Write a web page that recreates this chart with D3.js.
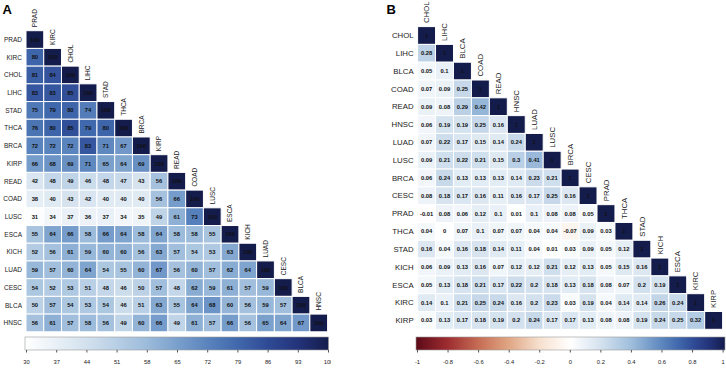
<!DOCTYPE html>
<html>
  <head>
    <meta charset="utf-8">
    <script src="https://d3js.org/d3.v7.min.js"></script>
    <style>
      body { margin: 0; background: #fff; }
      svg { font-family: "Liberation Sans", Arial, sans-serif; }
    </style>
  </head>
  <body>
  <svg id="chart" width="726" height="371"></svg>
  <script>
    // パネルA: 相関(%)
    var namesA = ["PRAD", "KIRC", "CHOL", "LIHC", "STAD", "THCA", "BRCA", "KIRP", "READ",
                  "COAD", "LUSC", "ESCA", "KICH", "LUAD", "CESC", "BLCA", "HNSC"];
    var valuesA = [
      [100],
      [80, 100],
      [81, 84, 100],
      [83, 83, 85, 100],
      [75, 79, 80, 74, 100],
      [76, 80, 85, 79, 80, 100],
      [72, 72, 72, 83, 71, 67, 100],
      [66, 68, 69, 71, 65, 64, 69, 100],
      [42, 48, 49, 46, 48, 47, 43, 56, 100],
      [38, 40, 43, 42, 40, 40, 40, 56, 66, 100],
      [31, 34, 37, 36, 37, 34, 35, 49, 61, 73, 100],
      [55, 64, 66, 58, 66, 64, 58, 64, 58, 58, 55, 100],
      [52, 56, 61, 59, 60, 60, 56, 63, 57, 54, 53, 63, 100],
      [59, 57, 60, 64, 54, 55, 60, 67, 56, 60, 57, 62, 64, 100],
      [54, 52, 53, 51, 48, 46, 50, 57, 48, 62, 59, 61, 57, 59, 100],
      [50, 57, 54, 53, 54, 46, 51, 63, 55, 64, 68, 60, 56, 59, 57, 100],
      [56, 61, 57, 58, 56, 49, 60, 66, 49, 61, 57, 66, 56, 65, 64, 67, 100]
    ];
    var ticksA = [30, 37, 44, 51, 58, 65, 72, 79, 86, 93, 100];

    // パネルB: 相関係数
    var namesB = ["CHOL", "LIHC", "BLCA", "COAD", "READ", "HNSC", "LUAD", "LUSC", "BRCA",
                  "CESC", "PRAD", "THCA", "STAD", "KICH", "ESCA", "KIRC", "KIRP"];
    var valuesB = [
      [1],
      [0.28, 1],
      [0.05, 0.1, 1],
      [0.07, 0.09, 0.25, 1],
      [0.09, 0.08, 0.29, 0.42, 1],
      [0.06, 0.19, 0.19, 0.25, 0.16, 1],
      [0.07, 0.22, 0.17, 0.15, 0.14, 0.24, 1],
      [0.09, 0.21, 0.22, 0.21, 0.15, 0.3, 0.41, 1],
      [0.06, 0.24, 0.13, 0.13, 0.13, 0.14, 0.23, 0.21, 1],
      [0.08, 0.18, 0.17, 0.16, 0.11, 0.16, 0.17, 0.25, 0.16, 1],
      [-0.01, 0.08, 0.06, 0.12, 0.1, 0.01, 0.1, 0.08, 0.08, 0.05, 1],
      [0.04, 0, 0.07, 0.1, 0.07, 0.07, 0.04, 0.04, -0.07, 0.09, 0.03, 1],
      [0.16, 0.04, 0.16, 0.18, 0.14, 0.11, 0.04, 0.01, 0.03, 0.09, 0.05, 0.12, 1],
      [0.06, 0.09, 0.13, 0.16, 0.07, 0.12, 0.12, 0.21, 0.12, 0.13, 0.05, 0.15, 0.16, 1],
      [0.05, 0.13, 0.18, 0.21, 0.17, 0.22, 0.2, 0.18, 0.13, 0.18, 0.08, 0.07, 0.2, 0.19, 1],
      [0.14, 0.1, 0.21, 0.25, 0.24, 0.16, 0.2, 0.23, 0.03, 0.19, 0.04, 0.14, 0.14, 0.26, 0.24, 1],
      [0.03, 0.13, 0.17, 0.18, 0.19, 0.2, 0.24, 0.17, 0.17, 0.13, 0.08, 0.08, 0.19, 0.24, 0.25, 0.32, 1]
    ];
    var ticksB = [-1, -0.8, -0.6, -0.4, -0.2, 0, 0.2, 0.4, 0.6, 0.8, 1];

    // カラースケール
    var blues = ["#ffffff", "#d3e1ee", "#9dbcdb", "#7aa0cc", "#5a84bd", "#4068ac", "#2f4a95", "#23337a", "#141c4c"];
    var bluePos = [0, 0.2, 0.4, 0.5, 0.6, 0.7, 0.8, 0.9, 1];
    var reds = ["#5c0a18", "#9c2b2f", "#c56b54", "#e0a684", "#f6e0cf"];

    var colorA = d3.scaleLinear()
      .domain(bluePos.map(function(p) { return 30 + 70 * p; }))
      .range(blues);

    var colorB = d3.scaleLinear()
      .domain([-1, -0.8, -0.6, -0.4, -0.2].concat(bluePos))
      .range(reds.concat(blues));

    var svg = d3.select("#chart");
    var defs = svg.append("defs");

    defs.append("clipPath").attr("id", "clipA")
      .append("rect").attr("x", 0).attr("y", 0).attr("width", 331).attr("height", 371);

    function drawPanel(p) {
      var g = svg.append("g");
      if (p.clip) g.attr("clip-path", "url(#" + p.clip + ")");

      var x = d3.scaleBand().domain(p.names).range([p.x0, p.x1]);
      var y = d3.scaleBand().domain(p.names).range([p.y0, p.y1]);

      // パネル記号
      g.append("text")
        .attr("x", p.letterX).attr("y", 13.5)
        .style("font-size", "13px").style("font-weight", "bold")
        .text(p.letter);

      // セル
      var cells = [];
      p.values.forEach(function(row, i) {
        row.forEach(function(v, j) {
          cells.push({ r: p.names[i], c: p.names[j], v: v });
        });
      });

      g.selectAll("rect.cell")
        .data(cells)
        .enter()
        .append("rect")
        .attr("class", "cell")
        .attr("x", function(d) { return x(d.c); })
        .attr("y", function(d) { return y(d.r); })
        .attr("width", x.bandwidth())
        .attr("height", y.bandwidth())
        .attr("fill", function(d) { return p.color(d.v); })
        .attr("stroke", "#fff")
        .attr("stroke-width", 1);

      g.selectAll("text.val")
        .data(cells)
        .enter()
        .append("text")
        .attr("class", "val")
        .attr("x", function(d) { return x(d.c) + x.bandwidth() / 2; })
        .attr("y", function(d) { return y(d.r) + y.bandwidth() / 2; })
        .attr("text-anchor", "middle")
        .attr("dy", "0.35em")
        .style("font-size", "5.8px").style("font-weight", "bold")
        .attr("fill", "#111")
        .text(function(d) { return String(d.v); });

      // 行ラベル
      g.selectAll("text.rowlab")
        .data(p.names)
        .enter()
        .append("text")
        .attr("x", p.x0 - 4)
        .attr("y", function(d) { return y(d) + y.bandwidth() / 2; })
        .attr("text-anchor", "end")
        .attr("dy", "0.35em")
        .style("font-size", p.labSize)
        .attr("fill", "#222")
        .text(function(d) { return d; });

      // 列ラベル(対角セルの上)
      g.selectAll("text.collab")
        .data(p.names)
        .enter()
        .append("text")
        .attr("transform", function(d) {
          return "translate(" + (x(d) + x.bandwidth() / 2) + "," + (y(d) - 3.5) + ") rotate(-90)";
        })
        .attr("dy", "0.35em")
        .style("font-size", p.labSize)
        .attr("fill", "#222")
        .text(function(d) { return d; });

      // カラーバー
      var gid = "grad" + p.letter;
      var grad = defs.append("linearGradient").attr("id", gid);
      d3.range(0, 1.0001, 0.05).forEach(function(t) {
        var v = p.domain[0] + t * (p.domain[1] - p.domain[0]);
        grad.append("stop")
          .attr("offset", (t * 100) + "%")
          .attr("stop-color", p.color(v));
      });

      g.append("rect")
        .attr("x", p.barX0).attr("y", 337)
        .attr("width", p.barX1 - p.barX0).attr("height", 13)
        .attr("fill", "url(#" + gid + ")")
        .attr("stroke", "#999").attr("stroke-width", 0.6);

      var s = d3.scaleLinear().domain(p.domain).range([p.tickX0, p.tickX1]);
      var axis = d3.axisBottom(s)
        .tickValues(p.ticks)
        .tickFormat(function(d) { return String(d); })
        .tickSize(2.5)
        .tickPadding(7);

      var ax = g.append("g")
        .attr("transform", "translate(0,350)")
        .call(axis);
      ax.select(".domain").remove();
      ax.selectAll(".tick line").attr("stroke", "#555");
      ax.selectAll(".tick text")
        .style("font-size", "5.8px")
        .style("font-family", "\"Liberation Sans\", Arial, sans-serif")
        .attr("fill", "#222");
    }

    drawPanel({
      letter: "A", letterX: 2.5, clip: "clipA",
      names: namesA, values: valuesA, color: colorA,
      x0: 26, x1: 327.6, y0: 30.7, y1: 331.8,
      labSize: "6.5px",
      domain: [30, 100], ticks: ticksA,
      barX0: 25, barX1: 328.5, tickX0: 26, tickX1: 328
    });

    drawPanel({
      letter: "B", letterX: 386.5,
      names: namesB, values: valuesB, color: colorB,
      x0: 417.6, x1: 722.6, y0: 26.6, y1: 329.3,
      labSize: "7.8px",
      domain: [-1, 1], ticks: ticksB,
      barX0: 416, barX1: 725, tickX0: 417, tickX1: 722.6
    });
  </script>
  </body>
</html>
